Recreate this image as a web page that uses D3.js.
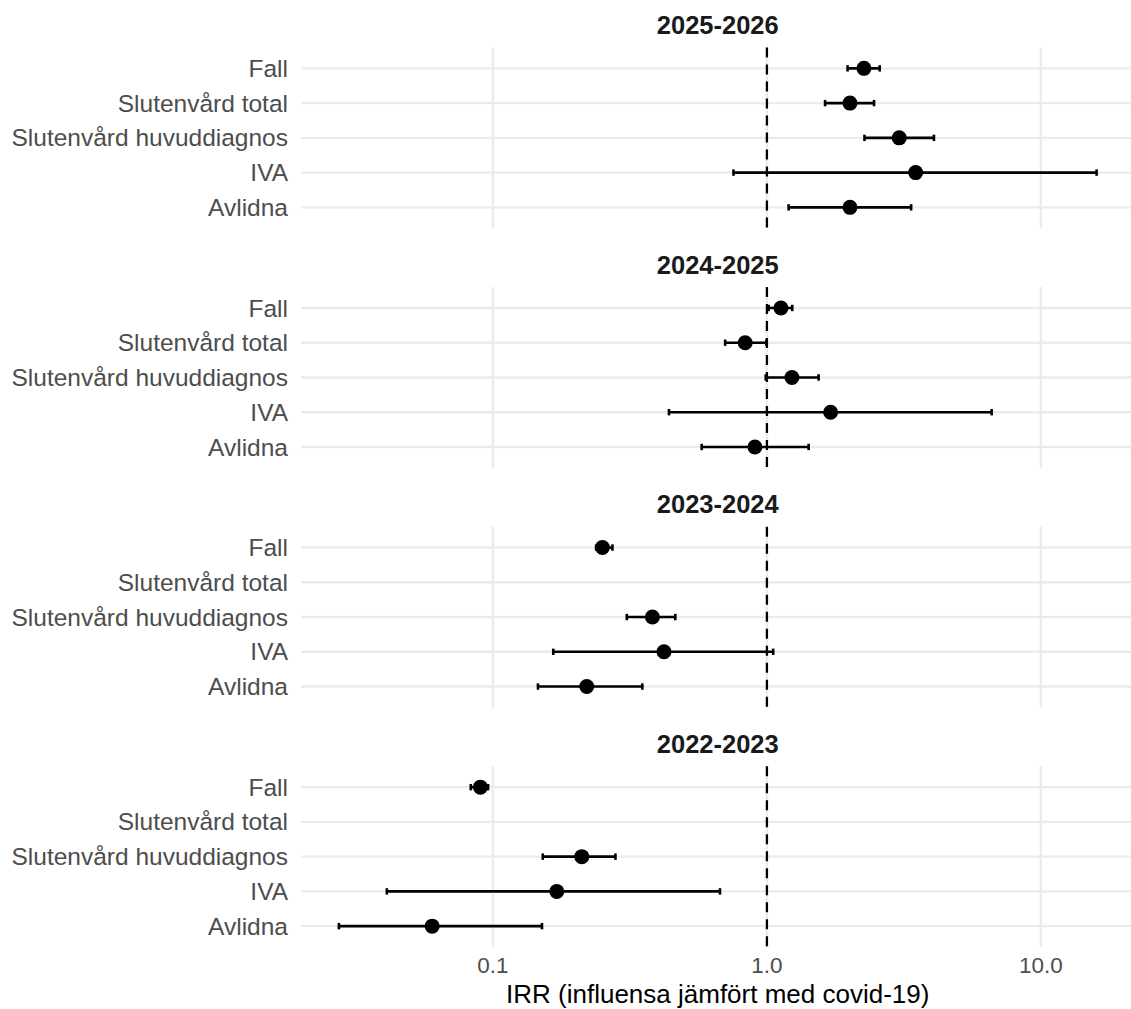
<!DOCTYPE html>
<html>
<head>
<meta charset="utf-8">
<script src="https://cdn.jsdelivr.net/npm/d3@7"></script>
<style>
  html, body { margin: 0; padding: 0; background: #ffffff; }
  svg { display: block; }
  text { font-family: "Liberation Sans", Arial, Helvetica, sans-serif; }
</style>
</head>
<body>
<svg id="chart" width="1131" height="1009"></svg>
<script>
// Outcome categories (rows within each season panel)
const categories = ["Fall", "Slutenvård total", "Slutenvård huvuddiagnos", "IVA", "Avlidna"];

// Seasons, one facet panel each, top to bottom
const seasons = ["2025-2026", "2024-2025", "2023-2024", "2022-2023"];

// IRR estimates with 95% confidence limits, ordered as `categories` (null = not available)
const irr2526  = [2.26, 2.01, 3.04, 3.49, 2.01];
const low2526  = [1.97, 1.63, 2.27, 0.755, 1.20];
const high2526 = [2.58, 2.46, 4.07, 15.97, 3.36];

const irr2425  = [1.125, 0.833, 1.234, 1.708, 0.904];
const low2425  = [1.014, 0.704, 0.99, 0.439, 0.578];
const high2425 = [1.237, 0.995, 1.544, 6.61, 1.42];

const irr2324  = [0.251, null, 0.382, 0.421, 0.220];
const low2324  = [0.238, null, 0.308, 0.166, 0.146];
const high2324 = [0.273, null, 0.463, 1.054, 0.351];

const irr2223  = [0.090, null, 0.211, 0.171, 0.060];
const low2223  = [0.083, null, 0.152, 0.041, 0.0274];
const high2223 = [0.096, null, 0.280, 0.674, 0.151];

// x-axis tick labels
const xTicks = [0.1, 1, 10];
const xTickLabels = ["0.1", "1.0", "10.0"];
const referenceLine = 1;

const seriesBySeason = {
  "2025-2026": [irr2526, low2526, high2526],
  "2024-2025": [irr2425, low2425, high2425],
  "2023-2024": [irr2324, low2324, high2324],
  "2022-2023": [irr2223, low2223, high2223]
};

const rows = [];
seasons.forEach(s => {
  const [est, lo, hi] = seriesBySeason[s];
  categories.forEach((c, i) => {
    rows.push({ season: s, category: c, irr: est[i], low: lo[i], high: hi[i] });
  });
});

// ---- layout ----
const panelLeft = 301, panelRight = 1134.5;
const firstPanelTop = 47.5, panelHeight = 180.7, panelStep = 239.6;
const col = {
  grid: "#ebebeb",
  axisText: "#4d4d4d",
  strip: "#1a1a1a",
  mark: "#000000"
};

const svg = d3.select("#chart");

// log x scale with 5% expansion of the data range (in log space)
const valid = rows.filter(d => d.irr != null);
const lmin = Math.log10(d3.min(valid, d => d.low));
const lmax = Math.log10(d3.max(valid, d => d.high));
const pad = (lmax - lmin) * 0.05;
const x = d3.scaleLog()
  .domain([Math.pow(10, lmin - pad), Math.pow(10, lmax + pad)])
  .range([panelLeft, panelRight]);

const panelCenter = (panelLeft + panelRight) / 2;

seasons.forEach((season, k) => {
  const top = firstPanelTop + k * panelStep;
  const bottom = top + panelHeight;
  const y = d3.scalePoint().domain(categories).range([top, bottom]).padding(0.6);
  const g = svg.append("g").attr("class", "panel");

  // horizontal grid lines
  g.selectAll("line.hgrid").data(categories).join("line")
    .attr("x1", panelLeft).attr("x2", panelRight)
    .attr("y1", d => y(d)).attr("y2", d => y(d))
    .attr("stroke", col.grid).attr("stroke-width", 2.4);

  // vertical grid lines
  g.selectAll("line.vgrid").data(xTicks).join("line")
    .attr("x1", d => x(d)).attr("x2", d => x(d))
    .attr("y1", top).attr("y2", bottom)
    .attr("stroke", col.grid).attr("stroke-width", 2.4);

  // reference line at IRR = 1
  g.append("line")
    .attr("x1", x(referenceLine)).attr("x2", x(referenceLine))
    .attr("y1", top).attr("y2", bottom)
    .attr("stroke", col.mark).attr("stroke-width", 2.3)
    .attr("stroke-dasharray", "10,7");

  // strip title
  svg.append("text")
    .attr("x", panelCenter).attr("y", top - 13.5)
    .attr("text-anchor", "middle")
    .attr("font-size", 25.5).attr("font-weight", "bold")
    .attr("fill", col.strip)
    .text(season);

  // y-axis category labels
  g.selectAll("text.ylab").data(categories).join("text")
    .attr("x", panelLeft - 13).attr("y", d => y(d))
    .attr("dy", "0.35em")
    .attr("text-anchor", "end")
    .attr("font-size", 24.5)
    .attr("fill", col.axisText)
    .text(d => d);

  const data = rows.filter(d => d.season === season && d.irr != null);
  const capH = 3.2;

  // confidence intervals
  const eb = g.selectAll("g.eb").data(data).join("g");
  eb.append("line")
    .attr("x1", d => x(d.low)).attr("x2", d => x(d.high))
    .attr("y1", d => y(d.category)).attr("y2", d => y(d.category))
    .attr("stroke", col.mark).attr("stroke-width", 2.6);
  eb.append("line")
    .attr("x1", d => x(d.low)).attr("x2", d => x(d.low))
    .attr("y1", d => y(d.category) - capH).attr("y2", d => y(d.category) + capH)
    .attr("stroke", col.mark).attr("stroke-width", 2.6);
  eb.append("line")
    .attr("x1", d => x(d.high)).attr("x2", d => x(d.high))
    .attr("y1", d => y(d.category) - capH).attr("y2", d => y(d.category) + capH)
    .attr("stroke", col.mark).attr("stroke-width", 2.6);

  // point estimates
  g.selectAll("circle.pt").data(data).join("circle")
    .attr("cx", d => x(d.irr)).attr("cy", d => y(d.category))
    .attr("r", 7.5)
    .attr("fill", col.mark);

  // x-axis tick labels under the last panel
  if (k === seasons.length - 1) {
    svg.selectAll("text.xtick").data(xTicks).join("text")
      .attr("x", d => x(d)).attr("y", bottom + 26)
      .attr("text-anchor", "middle")
      .attr("font-size", 22.5)
      .attr("fill", col.axisText)
      .text((d, i) => xTickLabels[i]);

    svg.append("text")
      .attr("x", panelCenter).attr("y", bottom + 55.5)
      .attr("text-anchor", "middle")
      .attr("font-size", 26)
      .attr("fill", "#000000")
      .text("IRR (influensa jämfört med covid-19)");
  }
});
</script>
</body>
</html>
